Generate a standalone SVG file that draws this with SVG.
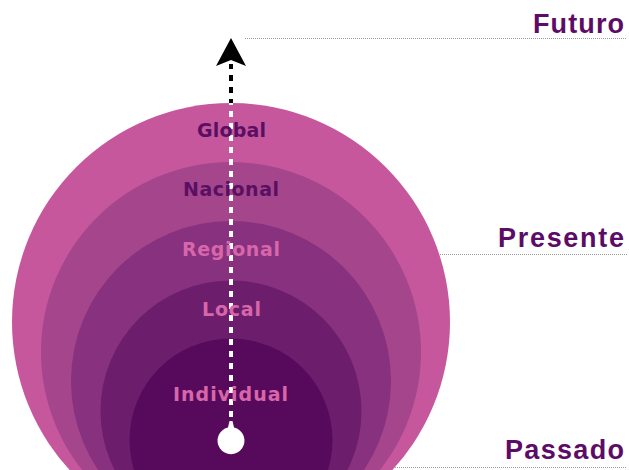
<svg xmlns="http://www.w3.org/2000/svg" width="629" height="470" viewBox="0 0 629 470">
  <style>
    .ring-label { font-family: "DejaVu Sans", "Liberation Sans", sans-serif; font-size: 19px; font-weight: bold; text-anchor: middle; }
    .dark { fill: #5a1062; }
    .light { fill: #d866ab; }
    .time-label { font-family: "Liberation Sans", Arial, sans-serif; font-size: 27px; font-weight: bold; fill: #5c0c66; text-anchor: end; }
    .guide { stroke: #9a9a9a; stroke-width: 1; stroke-dasharray: 1 1; fill: none; }
    .axis { stroke-width: 4; stroke-dasharray: 6 6; fill: none; }
  </style>
  <defs>
    <clipPath id="outerClip">
      <circle cx="231" cy="322" r="219"/>
    </clipPath>
  </defs>

  <!-- nested circles, all resting on the same bottom point -->
  <g id="global"><circle cx="231" cy="322" r="219" fill="#c6579c"/></g>
  <g id="nacional"><circle cx="231" cy="352" r="190" fill="#a5468d"/></g>
  <g id="regional"><circle cx="231" cy="381" r="160" fill="#88317e"/></g>
  <g id="local"><circle cx="231" cy="411" r="130.5" fill="#6c1e6c"/></g>
  <g id="individual"><circle cx="231" cy="440" r="101.5" fill="#570a5b"/></g>

  <!-- time guides -->
  <g id="connectors">
    <line class="guide" x1="245" y1="38.5" x2="627" y2="38.5"/>
    <line class="guide" x1="440" y1="254.5" x2="627" y2="254.5"/>
    <line class="guide" x1="395" y1="467.5" x2="627" y2="467.5"/>

    <!-- time axis: black outside the sphere, white inside -->
    <line class="axis" stroke="#000" x1="231" y1="429" x2="231" y2="64"/>
    <line class="axis" stroke="#fff" x1="231" y1="429" x2="231" y2="64" clip-path="url(#outerClip)"/>
    <polygon points="231,38 246,66 231,60 216,66" fill="#000"/>
    <path d="M229.5,421 L232.5,421 L234,427.5 A13.5,13.5 0 1 1 228,427.5 Z" fill="#fff"/>
  </g>

  <!-- ring labels -->
  <text class="ring-label dark" x="231.5" y="137" textLength="69" lengthAdjust="spacing">Global</text>
  <text class="ring-label dark" x="231" y="196" textLength="96" lengthAdjust="spacing">Nacional</text>
  <text class="ring-label light" x="231" y="256" textLength="98" lengthAdjust="spacing">Regional</text>
  <text class="ring-label light" x="231.5" y="316" textLength="59" lengthAdjust="spacing">Local</text>
  <text class="ring-label light" x="230.5" y="401" textLength="115" lengthAdjust="spacing">Individual</text>

  <!-- time labels -->
  <text class="time-label" x="624" y="33" textLength="91" lengthAdjust="spacing">Futuro</text>
  <text class="time-label" x="624" y="247" textLength="126" lengthAdjust="spacing">Presente</text>
  <text class="time-label" x="624" y="459" textLength="119" lengthAdjust="spacing">Passado</text>
</svg>
